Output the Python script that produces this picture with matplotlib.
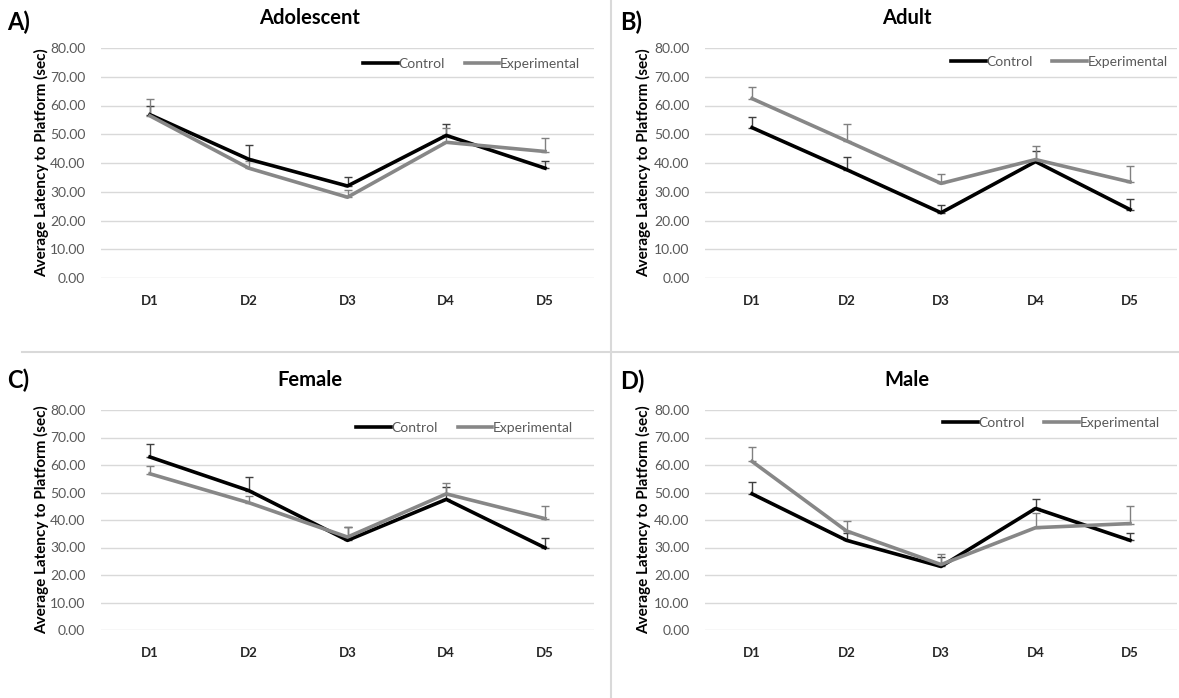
import matplotlib
matplotlib.use("Agg")
import matplotlib.pyplot as plt
from matplotlib.lines import Line2D
import numpy as np

plt.rcParams['font.family'] = ['Lato', 'DejaVu Sans']

days = ["D1", "D2", "D3", "D4", "D5"]

adol_control = [56.8, 41.3, 32.0, 49.6, 38.2]
adol_control_err = [2.9, 4.8, 3.1, 4.1, 2.6]
adol_exp = [56.4, 38.2, 28.1, 47.2, 44.0]
adol_exp_err = [5.8, 2.5, 2.6, 5.0, 4.7]

adult_control = [52.3, 37.7, 22.7, 40.5, 23.8]
adult_control_err = [3.7, 4.4, 2.6, 3.7, 3.6]
adult_exp = [62.4, 47.7, 32.9, 41.2, 33.4]
adult_exp_err = [3.9, 5.8, 3.4, 4.7, 5.5]

fem_control = [62.9, 50.7, 32.6, 47.5, 29.9]
fem_control_err = [4.9, 5.1, 4.9, 4.6, 3.6]
fem_exp = [56.8, 46.3, 33.8, 49.5, 40.5]
fem_exp_err = [2.9, 2.5, 3.7, 4.1, 4.7]

male_control = [49.5, 32.6, 23.1, 44.2, 32.6]
male_control_err = [4.2, 2.5, 3.4, 3.4, 2.8]
male_exp = [61.3, 36.0, 23.8, 37.2, 38.7]
male_exp_err = [5.2, 3.6, 3.7, 5.2, 6.5]

yticks = [0, 10, 20, 30, 40, 50, 60, 70, 80]

W, H = 1179, 698
fig = plt.figure(figsize=(W / 100, H / 100), dpi=100)

def px_axes(left, right, top, bottom):
    return fig.add_axes([left / W, 1 - bottom / H, (right - left) / W, (bottom - top) / H])

panels = [
    ("A)", "Adolescent", (100.6, 594.4, 48, 278), (7, 22), (310, 18), adol_control, adol_control_err, adol_exp, adol_exp_err, 42, (0.971, 0.93)),
    ("B)", "Adult", (704.8, 1177.3, 48, 278), (620, 22), (907, 18), adult_control, adult_control_err, adult_exp, adult_exp_err, 644, (0.980, 0.939)),
    ("C)", "Female", (100.6, 594.4, 410, 630), (7, 380), (310, 380), fem_control, fem_control_err, fem_exp, fem_exp_err, 42, (0.957, 0.918)),
    ("D)", "Male", (704.8, 1177.3, 410, 630), (620, 381), (907, 380), male_control, male_control_err, male_exp, male_exp_err, 644, (0.963, 0.94)),
]

ctrl_color = "#000000"
exp_color = "#878787"

for letter, title, box, lpos, tpos, c, ce, e, ee, ylx, legpos in panels:
    ax = px_axes(*box)
    x = np.arange(len(days))
    ax.errorbar(x, c, yerr=[np.zeros(len(c)), ce], color=ctrl_color, lw=0, elinewidth=1.0,
                ecolor="#404040", capsize=3, capthick=1.0, zorder=3)
    ax.errorbar(x, e, yerr=[np.zeros(len(e)), ee], color=exp_color, lw=0, elinewidth=1.0,
                ecolor="#808080", capsize=3, capthick=1.0, zorder=3)
    ax.plot(x, c, color=ctrl_color, lw=2.6, solid_joinstyle='round', zorder=4, label="Control")
    ax.plot(x, e, color=exp_color, lw=2.6, solid_joinstyle='round', zorder=4, label="Experimental")
    ax.set_xlim(-0.5, 4.5)
    ax.set_ylim(0, 80)
    ax.set_yticks(yticks)
    ax.set_yticklabels([f"{v:.2f}" for v in yticks], color="#595959", fontsize=10)
    ax.set_xticks(x)
    ax.set_xticklabels(days, fontweight="bold", fontsize=9.5, color="#262626")
    ax.tick_params(axis='both', length=0)
    ax.tick_params(axis='y', pad=11)
    ax.tick_params(axis='x', pad=12)
    ax.grid(axis='y', color="#d9d9d9", lw=1)
    ax.set_axisbelow(True)
    for s in ax.spines.values():
        s.set_visible(False)
    ax.legend(loc="center right", bbox_to_anchor=legpos, ncol=2, frameon=False,
              fontsize=10, handlelength=2.5, handletextpad=0.05, columnspacing=1.4,
              labelcolor="#595959", borderaxespad=0, borderpad=0)
    fig.text(ylx / W, 1 - ((box[2] + box[3]) / 2) / H, "Average Latency to Platform (sec)",
             rotation=90, ha="center", va="center", fontsize=11, fontweight="bold")
    fig.text(lpos[0] / W, 1 - lpos[1] / H, letter, ha="left", va="center", fontsize=17, fontweight="bold")
    fig.text(tpos[0] / W, 1 - tpos[1] / H, title, ha="center", va="center", fontsize=14.5, fontweight="bold")

# separators
fig.add_artist(Line2D([611 / W, 611 / W], [0, 1], color="#d9d9d9", lw=1.5, transform=fig.transFigure))
fig.add_artist(Line2D([22 / W, 1], [1 - 352 / H, 1 - 352 / H], color="#d9d9d9", lw=1.5, transform=fig.transFigure))

fig.savefig("out.png", dpi=100)
